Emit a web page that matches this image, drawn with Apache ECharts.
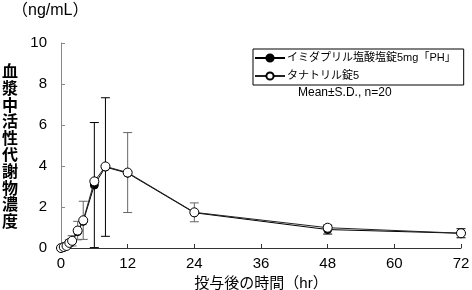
<!DOCTYPE html>
<html><head><meta charset="utf-8">
<script src="https://cdn.jsdelivr.net/npm/echarts@6/dist/echarts.min.js"></script>
<style>html,body{margin:0;padding:0;background:#fff}#c{width:472px;height:290px}</style>
</head><body><div id="c"></div>
<script>
var times = [0, 0.5, 1, 1.5, 2, 3, 4, 6, 8, 12, 24, 48, 72];
var filledName = 'イミダプリル塩酸塩錠5mg「PH」';
var openName = 'タナトリル錠5';
var filledMean = [0, 0.04, 0.1, 0.22, 0.33, 0.8, 1.3, 3.07, 3.95, 3.65, 1.72, 0.9, 0.72];
var openMean   = [0, 0.05, 0.1, 0.25, 0.35, 0.85, 1.35, 3.25, 3.98, 3.68, 1.74, 0.99, 0.72];
var filledSD = [null, null, null, null, null, null, null, 3.05, 3.38, null, null, 0.22, 0.22];
var openSD   = [null, null, null, 0.15, 0.25, 0.45, 0.93, null, null, 1.95, 0.46, null, null];
var xTicks = [0, 12, 24, 36, 48, 60, 72];
var yTicks = [0, 2, 4, 6, 8, 10];

var FONT = '"Liberation Sans", Arial, "Noto Sans CJK JP", sans-serif';
function pairs(m){ return times.map(function(t,i){ return [t, m[i]]; }); }
function errData(m, sd){
  var out = [];
  times.forEach(function(t,i){ if (sd[i] != null) out.push([t, m[i]-sd[i], m[i]+sd[i]]); });
  return out;
}
function errSeries(m, sd, color){
  return {
    type: 'custom', silent: true, z: 1,
    data: errData(m, sd),
    encode: {x: 0, y: [1, 2]},
    renderItem: function(params, api){
      var x = api.value(0);
      var lo = api.coord([x, Math.max(0, api.value(1))]);
      var hi = api.coord([x, api.value(2)]);
      var w = 4.5;
      var st = {stroke: color, lineWidth: 1, fill: null};
      return {type: 'group', children: [
        {type: 'line', shape: {x1: lo[0], y1: lo[1], x2: hi[0], y2: hi[1]}, style: st},
        {type: 'line', shape: {x1: hi[0]-w, y1: hi[1], x2: hi[0]+w, y2: hi[1]}, style: st},
        {type: 'line', shape: {x1: lo[0]-w, y1: lo[1], x2: lo[0]+w, y2: lo[1]}, style: st}
      ]};
    }
  };
}
var chart = echarts.init(document.getElementById('c'), null, {renderer: 'canvas'});
chart.setOption({
  animation: false,
  backgroundColor: '#fff',
  grid: {left: 61, right: 11, top: 43, bottom: 42, containLabel: false, outerBoundsMode: 'none'},
  xAxis: {
    type: 'value', min: 0, max: 72, interval: 12,
    axisLine: {show: true, lineStyle: {color: '#333', width: 1}},
    axisTick: {show: true, inside: true, length: 4, lineStyle: {color: '#333'}},
    axisLabel: {color: '#000', fontSize: 15, fontFamily: FONT, margin: 8,
      formatter: function(v){ return xTicks.indexOf(v) >= 0 ? String(v) : ''; }},
    splitLine: {show: false},
    name: '投与後の時間（hr）', nameLocation: 'middle', nameGap: 26,
    nameTextStyle: {color: '#000', fontSize: 15, fontFamily: FONT}
  },
  yAxis: {
    type: 'value', min: 0, max: 10, interval: 2,
    axisLine: {show: true, lineStyle: {color: '#888', width: 1}},
    axisTick: {show: true, inside: true, length: 4, lineStyle: {color: '#888'}},
    axisLabel: {color: '#000', fontSize: 15, fontFamily: FONT, margin: 14,
      formatter: function(v){ return yTicks.indexOf(v) >= 0 ? String(v) : ''; }},
    splitLine: {show: false}
  },
  legend: {
    orient: 'vertical', left: 253, top: 49, itemGap: 4,
    itemWidth: 30, itemHeight: 9, padding: [2, 8, 2, 1],
    borderColor: '#000', borderWidth: 1,
    textStyle: {color: '#000', fontSize: 11, lineHeight: 14, fontFamily: FONT, padding: [0, 0, 0, -3]},
    data: [filledName, openName]
  },
  graphic: [
    {type: 'text', left: 12, top: 3, style: {text: '（ng/mL）', font: '16px ' + FONT, fill: '#000'}},
    {type: 'text', left: 2, top: 63, style: {text: '血\n漿\n中\n活\n性\n代\n謝\n物\n濃\n度',
      font: 'bold 16px "Noto Sans CJK JP", sans-serif', fill: '#000', lineHeight: 16.6}},
    {type: 'text', left: 298, top: 87, style: {text: 'Mean±S.D., n=20', font: '12px ' + FONT, fill: '#000'}}
  ],
  series: [
    errSeries(openMean, openSD, '#666'),
    errSeries(filledMean, filledSD, '#000'),
    {name: filledName, type: 'line', data: pairs(filledMean), z: 3,
      symbol: 'circle', symbolSize: 8, showSymbol: true,
      lineStyle: {color: '#000', width: 1},
      itemStyle: {color: '#000', borderColor: '#000', borderWidth: 1}},
    {name: openName, type: 'line', data: pairs(openMean), z: 4,
      symbol: 'circle', symbolSize: 9, showSymbol: true,
      lineStyle: {color: '#222', width: 1},
      itemStyle: {color: '#fff', borderColor: '#000', borderWidth: 1}}
  ]
});
</script></body></html>
